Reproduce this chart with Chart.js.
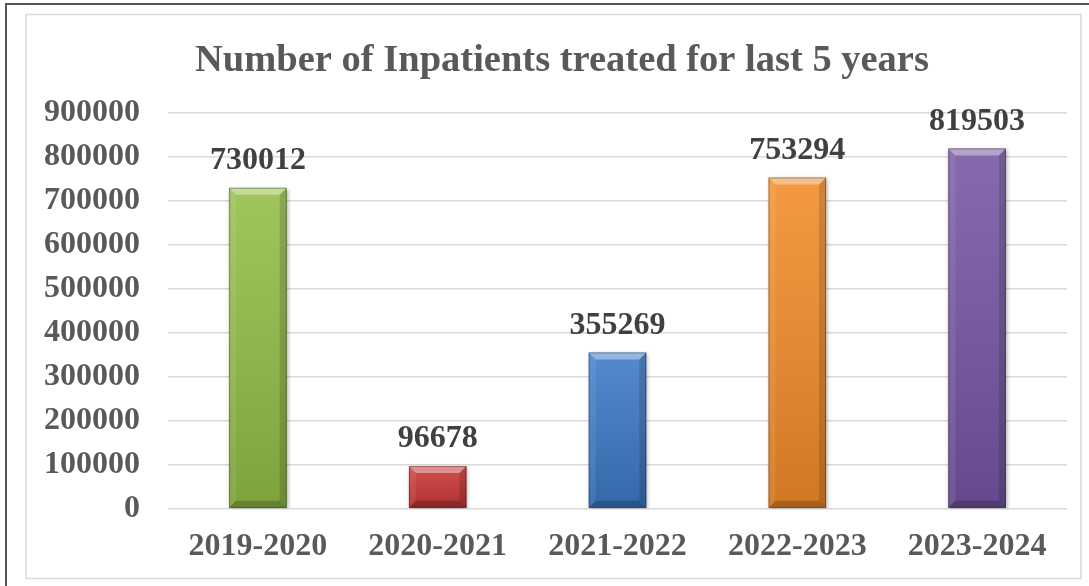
<!DOCTYPE html>
<html>
<head>
<meta charset="utf-8">
<script src="https://cdn.jsdelivr.net/npm/chart.js@4/dist/chart.umd.min.js"></script>
<style>
  html, body { margin: 0; padding: 0; background: #fff; }
  #wrap { width: 1089px; height: 586px; position: relative; }
</style>
</head>
<body>
<div id="wrap"><canvas id="grafica"></canvas></div>
<script>
const years = ["2019-2020", "2020-2021", "2021-2022", "2022-2023", "2023-2024"];
const inpatients = [730012, 96678, 355269, 753294, 819503];
const barColors = ["#93bd46", "#c93737", "#3b79c6", "#f28b28", "#7655a3"];
const yTicks = [0, 100000, 200000, 300000, 400000, 500000, 600000, 700000, 800000, 900000];
const titulo = "Number of Inpatients treated for last 5 years";

const serif = "'Liberation Serif', 'Times New Roman', serif";

// marco del grafico (borde exterior oscuro + borde interior gris) y titulo
const marco = {
  id: 'marco',
  beforeDraw(chart) {
    const ctx = chart.ctx;
    ctx.save();
    ctx.fillStyle = '#fff';
    ctx.fillRect(0, 0, chart.width, chart.height);
    ctx.strokeStyle = '#555';
    ctx.lineWidth = 2;
    ctx.beginPath();
    ctx.moveTo(6, chart.height + 5);
    ctx.lineTo(6, 4);
    ctx.lineTo(chart.width + 5, 4);
    ctx.stroke();
    ctx.strokeStyle = '#d9d9d9';
    ctx.lineWidth = 1.5;
    ctx.strokeRect(26, 14.5, 1055, 564);
    // titulo, centrado como en el original de Excel
    ctx.font = "bold 38.5px " + serif;
    ctx.fillStyle = '#595959';
    ctx.textAlign = 'center';
    ctx.textBaseline = 'alphabetic';
    ctx.fillText(titulo, 562, 71);
    ctx.restore();
  }
};

// sombra y bisel de las barras, tipo Excel
const bisel = {
  id: 'bisel',
  beforeDatasetsDraw(chart) {
    const ctx = chart.ctx;
    ctx.save();
    ctx.shadowColor = 'rgba(0,0,0,0.35)';
    ctx.shadowBlur = 4;
    ctx.shadowOffsetX = 1;
    ctx.shadowOffsetY = 2;
  },
  afterDatasetsDraw(chart) {
    const ctx = chart.ctx;
    ctx.restore();
    const meta = chart.getDatasetMeta(0);
    meta.data.forEach((bar) => {
      const { x, y, base, width } = bar.getProps(['x', 'y', 'base', 'width'], true);
      const l = x - width / 2, r = x + width / 2, t = y, b = base;
      const b8 = Math.min(7, (b - t) / 2);
      ctx.save();
      // degradado general
      const g = ctx.createLinearGradient(0, t, 0, b);
      g.addColorStop(0, 'rgba(255,255,255,0.12)');
      g.addColorStop(1, 'rgba(0,0,0,0.14)');
      ctx.fillStyle = g;
      ctx.fillRect(l, t, width, b - t);
      // bisel superior
      ctx.fillStyle = 'rgba(255,255,255,0.38)';
      ctx.beginPath();
      ctx.moveTo(l, t); ctx.lineTo(r, t); ctx.lineTo(r - b8, t + b8); ctx.lineTo(l + b8, t + b8);
      ctx.closePath(); ctx.fill();
      // bisel izquierdo
      ctx.fillStyle = 'rgba(255,255,255,0.08)';
      ctx.beginPath();
      ctx.moveTo(l, t); ctx.lineTo(l + b8, t + b8); ctx.lineTo(l + b8, b - b8); ctx.lineTo(l, b);
      ctx.closePath(); ctx.fill();
      // bisel derecho
      ctx.fillStyle = 'rgba(0,0,0,0.14)';
      ctx.beginPath();
      ctx.moveTo(r, t); ctx.lineTo(r - b8, t + b8); ctx.lineTo(r - b8, b - b8); ctx.lineTo(r, b);
      ctx.closePath(); ctx.fill();
      // bisel inferior
      ctx.fillStyle = 'rgba(0,0,0,0.2)';
      ctx.beginPath();
      ctx.moveTo(l, b); ctx.lineTo(l + b8, b - b8); ctx.lineTo(r - b8, b - b8); ctx.lineTo(r, b);
      ctx.closePath(); ctx.fill();
      // borde fino oscuro
      ctx.strokeStyle = 'rgba(0,0,0,0.3)';
      ctx.lineWidth = 1;
      ctx.strokeRect(l + 0.5, t + 0.5, width - 1, b - t - 1);
      ctx.restore();
    });
  }
};

// etiquetas de valor sobre cada barra
const etiquetas = {
  id: 'etiquetas',
  afterDatasetsDraw(chart) {
    const ctx = chart.ctx;
    const meta = chart.getDatasetMeta(0);
    ctx.save();
    ctx.font = "bold 32px " + serif;
    ctx.fillStyle = '#404040';
    ctx.textAlign = 'center';
    ctx.textBaseline = 'bottom';
    meta.data.forEach((bar, i) => {
      ctx.fillText(String(inpatients[i]), bar.x, bar.y - 11);
    });
    ctx.restore();
  }
};

const ctx = document.getElementById("grafica").getContext("2d");
new Chart(ctx, {
  type: 'bar',
  data: {
    labels: years,
    datasets: [{
      data: inpatients,
      backgroundColor: barColors,
      borderWidth: 0,
      barPercentage: 0.32,
      categoryPercentage: 1
    }]
  },
  options: {
    responsive: true,
    maintainAspectRatio: false,
    animation: false,
    layout: { padding: { top: 113, left: 16, right: 22, bottom: 1 } },
    plugins: {
      legend: { display: false },
      tooltip: { enabled: false },
      title: { display: false }
    },
    scales: {
      x: {
        grid: { display: false, drawTicks: false },
        border: { display: false },
        ticks: {
          color: '#595959',
          font: { family: serif, size: 32, weight: 'bold' },
          padding: 19,
          maxRotation: 0
        }
      },
      y: {
        min: 0,
        max: 900000,
        afterBuildTicks: (axis) => { axis.ticks = yTicks.map(v => ({ value: v })); },
        grid: { color: '#d9d9d9', lineWidth: 1.5, drawTicks: false },
        border: { display: false },
        ticks: {
          color: '#595959',
          font: { family: serif, size: 32, weight: 'bold' },
          padding: 28,
          callback: (v) => String(v)
        }
      }
    }
  },
  plugins: [marco, bisel, etiquetas]
});
</script>
</body>
</html>
